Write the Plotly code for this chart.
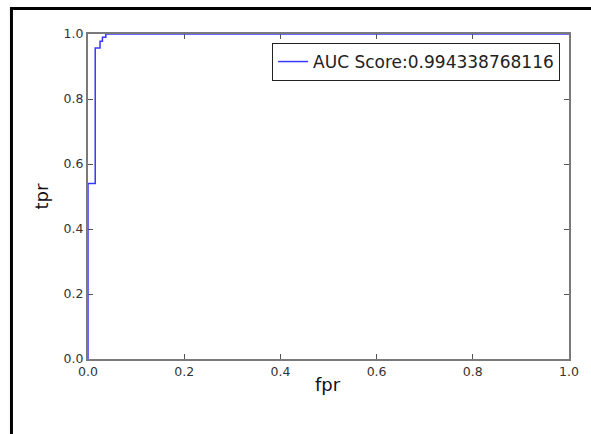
import plotly.graph_objects as go

fpr = [0.0, 0.0, 0.015, 0.015, 0.025, 0.025, 0.03, 0.03, 0.037, 0.037, 1.0]
tpr = [0.0, 0.54, 0.54, 0.957, 0.957, 0.978, 0.978, 0.99, 0.99, 1.0, 1.0]
auc_label = "AUC Score:0.994338768116"
tick_vals = [0.0, 0.2, 0.4, 0.6, 0.8, 1.0]
tick_text = ["0.0", "0.2", "0.4", "0.6", "0.8", "1.0"]

W, H = 591, 434
L, T, R, B = 88, 34, 575, 359
PW, PH = R - L, B - T


def px(x):
    return (x - L) / PW


def py(y):
    return (B - y) / PH


fig = go.Figure()
fig.add_trace(go.Scatter(x=fpr, y=tpr, mode="lines", name=auc_label,
                         line=dict(color="#3838ff", width=1.5)))

axis_common = dict(range=[0, 1], tickvals=tick_vals, ticktext=tick_text,
                   ticks="inside", ticklen=5, tickcolor="#555", tickwidth=1,
                   showline=True, linecolor="#7a7a7a", linewidth=2, mirror="ticks",
                   showgrid=False, zeroline=False,
                   tickfont=dict(family="DejaVu Sans", size=12.5, color="#333"))

fig.update_layout(
    width=W, height=H,
    margin=dict(l=L, r=W - R, t=T, b=H - B),
    paper_bgcolor="white", plot_bgcolor="white",
    font=dict(family="DejaVu Sans", color="#222"),
    xaxis=axis_common, yaxis=axis_common,
    showlegend=True,
    legend=dict(x=px(566), xanchor="right", y=py(43), yanchor="top",
                bordercolor="#222", borderwidth=1, bgcolor="white",
                font=dict(family="DejaVu Sans", size=17, color="#222")),
    annotations=[
        dict(text="fpr", x=px(331), y=py(384), xref="paper", yref="paper",
             xanchor="center", yanchor="middle",
             showarrow=False, font=dict(family="DejaVu Sans", size=18, color="#111")),
        dict(text="tpr", x=px(41), y=py(197), xref="paper", yref="paper",
             xanchor="center", yanchor="middle",
             showarrow=False, textangle=-90, font=dict(family="DejaVu Sans", size=18, color="#111")),
    ],
    shapes=[
        dict(type="path", xref="paper", yref="paper",
             path="M %f,%f L %f,%f L %f,%f" % (px(10.5), -0.4,
                                              px(10.5), py(8.5),
                                              1.2, py(8.5)),
             line=dict(color="black", width=3)),
    ],
)

fig.write_html(
    "out.html",
    config={"displayModeBar": False},
    post_script="document.body.style.margin='0';document.body.style.overflow='hidden';",
)
